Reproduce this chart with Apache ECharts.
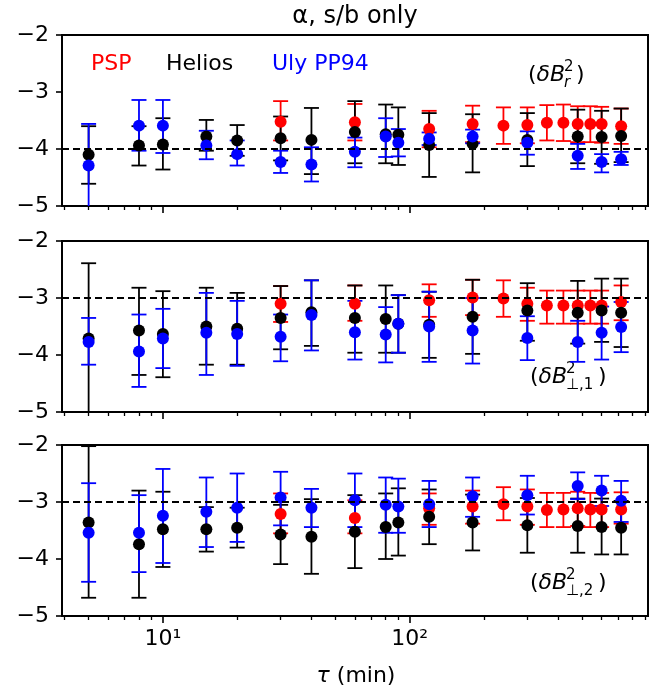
<!DOCTYPE html>
<html><head><meta charset="utf-8">
<script src="https://cdn.jsdelivr.net/npm/echarts@6/dist/echarts.min.js"></script>
<style>html,body{margin:0;padding:0;background:#fff}#c{width:660px;height:690px}</style>
</head><body><div id="c"></div>
<script>
// ---------- data ----------
const tauHU  = [5, 8, 10, 15, 20, 30, 40, 60, 80, 90, 120, 180, 300, 480, 600, 720];
const tauPSP = [30, 60, 120, 180, 240, 300, 360, 420, 480, 540, 600, 720];
const refLevels = [-4, -3, -3];
const majorTicks = [10, 100];
const minorTicks = [4, 5, 6, 7, 8, 9, 20, 30, 40, 50, 60, 70, 80, 90, 200, 300, 400, 500, 600, 700, 800, 900];
const yTicks = [-5, -4, -3, -2];

// panel 1: (dB_r^2)
const r_psp    = [-3.52, -3.53, -3.65, -3.56, -3.59, -3.58, -3.54, -3.54, -3.56, -3.56, -3.56, -3.60];
const r_psp_lo = [-3.85, -3.85, -3.97, -3.88, -3.91, -3.90, -3.85, -3.86, -3.88, -3.88, -3.89, -3.91];
const r_psp_hi = [-3.16, -3.21, -3.33, -3.24, -3.27, -3.27, -3.23, -3.22, -3.25, -3.25, -3.26, -3.29];
const r_hel    = [-4.10, -3.94, -3.92, -3.78, -3.85, -3.81, -3.84, -3.70, -3.74, -3.75, -3.93, -3.91, -3.84, -3.78, -3.79, -3.77];
const r_hel_lo = [-4.61, -4.29, -4.36, -4.03, -4.12, -4.20, -4.44, -4.25, -4.25, -4.28, -4.49, -4.41, -4.30, -4.25, -4.26, -4.23];
const r_hel_hi = [-3.60, -3.60, -3.46, -3.49, -3.58, -3.43, -3.28, -3.16, -3.22, -3.27, -3.37, -3.39, -3.37, -3.31, -3.33, -3.29];
const r_uly    = [-4.29, -3.59, -3.59, -3.94, -4.09, -4.23, -4.27, -4.05, -3.78, -3.89, -3.82, -3.78, -3.89, -4.12, -4.23, -4.18];
const r_uly_lo = [-5.10, -4.03, -4.07, -4.18, -4.29, -4.42, -4.57, -4.32, -4.14, -4.13, -3.93, -3.90, -4.10, -4.35, -4.41, -4.28];
const r_uly_hi = [-3.56, -3.14, -3.14, -3.68, -3.85, -4.03, -3.97, -3.80, -3.46, -3.65, -3.71, -3.66, -3.69, -3.91, -4.09, -4.05];

// panel 2: (dB_perp,1^2)
const p1_psp    = [-3.10, -3.10, -3.04, -2.99, -3.01, -3.10, -3.13, -3.13, -3.13, -3.13, -3.13, -3.07];
const p1_psp_lo = [-3.42, -3.40, -3.33, -3.30, -3.33, -3.40, -3.45, -3.45, -3.45, -3.45, -3.45, -3.39];
const p1_psp_hi = [-2.79, -2.78, -2.76, -2.68, -2.69, -2.82, -2.87, -2.87, -2.87, -2.87, -2.87, -2.78];
const p1_hel    = [-3.71, -3.57, -3.63, -3.50, -3.54, -3.35, -3.25, -3.35, -3.37, -3.45, -3.47, -3.33, -3.22, -3.26, -3.22, -3.26];
const p1_hel_lo = [-5.10, -4.35, -4.39, -4.17, -4.17, -3.90, -3.84, -3.96, -3.96, -3.96, -4.05, -3.98, -3.75, -3.80, -3.77, -3.86];
const p1_hel_hi = [-2.39, -2.82, -2.88, -2.82, -2.91, -2.79, -2.69, -2.78, -2.78, -2.95, -2.89, -2.68, -2.74, -2.70, -2.66, -2.66];
const p1_uly    = [-3.77, -3.94, -3.71, -3.61, -3.63, -3.68, -3.30, -3.60, -3.64, -3.45, -3.50, -3.57, -3.70, -3.77, -3.61, -3.51];
const p1_uly_lo = [-4.17, -4.56, -4.23, -4.35, -4.19, -4.11, -3.92, -4.08, -4.13, -3.96, -4.12, -4.15, -4.09, -4.12, -4.08, -3.95];
const p1_uly_hi = [-3.35, -3.29, -3.19, -2.91, -3.05, -3.29, -2.69, -3.05, -3.16, -2.95, -2.89, -3.00, -3.32, -3.40, -3.15, -3.07];

// panel 3: (dB_perp,2^2)
const p2_psp    = [-3.21, -3.28, -3.11, -3.08, -3.04, -3.08, -3.14, -3.13, -3.11, -3.13, -3.13, -3.13];
const p2_psp_lo = [-3.55, -3.55, -3.40, -3.38, -3.32, -3.40, -3.44, -3.44, -3.42, -3.44, -3.44, -3.38];
const p2_psp_hi = [-2.85, -2.97, -2.85, -2.80, -2.74, -2.78, -2.84, -2.84, -2.82, -2.84, -2.84, -2.83];
const p2_hel    = [-3.36, -3.74, -3.48, -3.48, -3.45, -3.57, -3.61, -3.52, -3.44, -3.36, -3.26, -3.36, -3.41, -3.42, -3.44, -3.45];
const p2_hel_lo = [-4.68, -4.68, -4.14, -3.87, -3.80, -4.09, -4.26, -4.16, -4.00, -3.94, -3.74, -3.85, -3.89, -3.89, -3.92, -3.92];
const p2_hel_hi = [-2.02, -2.80, -2.82, -3.09, -3.10, -3.05, -2.95, -2.88, -2.85, -2.76, -2.78, -2.87, -2.93, -2.94, -2.94, -2.98];
const p2_uly    = [-3.54, -3.54, -3.24, -3.17, -3.10, -2.92, -3.10, -2.97, -3.05, -3.08, -3.04, -2.90, -2.88, -2.72, -2.80, -2.98];
const p2_uly_lo = [-4.40, -4.23, -4.07, -3.79, -3.70, -3.41, -3.44, -3.44, -3.54, -3.54, -3.44, -3.26, -3.22, -2.95, -3.07, -3.35];
const p2_uly_hi = [-2.67, -2.88, -2.42, -2.57, -2.50, -2.47, -2.77, -2.50, -2.57, -2.59, -2.63, -2.57, -2.54, -2.48, -2.54, -2.63];

// ---------- chart ----------
const FONT = '"DejaVu Sans", sans-serif';
const X_MIN = 3.9, X_MAX = 925, Y_MIN = -5, Y_MAX = -2;
const gridTops = [35, 241, 445];
const GRID_H = 171;
const COL = { psp: '#ff0000', hel: '#000000', uly: '#0000ff' };

const panels = [
  { psp: [r_psp, r_psp_lo, r_psp_hi],   hel: [r_hel, r_hel_lo, r_hel_hi],   uly: [r_uly, r_uly_lo, r_uly_hi] },
  { psp: [p1_psp, p1_psp_lo, p1_psp_hi], hel: [p1_hel, p1_hel_lo, p1_hel_hi], uly: [p1_uly, p1_uly_lo, p1_uly_hi] },
  { psp: [p2_psp, p2_psp_lo, p2_psp_hi], hel: [p2_hel, p2_hel_lo, p2_hel_hi], uly: [p2_uly, p2_uly_lo, p2_uly_hi] }
];

function errRenderer(color) {
  return function (params, api) {
    const x = api.value(0), lo = api.value(1), hi = api.value(2);
    const loClip = lo < Y_MIN, hiClip = hi > Y_MAX;
    const pLo = api.coord([x, Math.max(lo, Y_MIN)]);
    const pHi = api.coord([x, Math.min(hi, Y_MAX)]);
    const st = { stroke: color, lineWidth: 1.8 };
    const c = 7.5;
    const ch = [{ type: 'line', shape: { x1: pLo[0], y1: pLo[1], x2: pHi[0], y2: pHi[1] }, style: st }];
    if (!loClip) ch.push({ type: 'line', shape: { x1: pLo[0] - c, y1: pLo[1], x2: pLo[0] + c, y2: pLo[1] }, style: st });
    if (!hiClip) ch.push({ type: 'line', shape: { x1: pHi[0] - c, y1: pHi[1], x2: pHi[0] + c, y2: pHi[1] }, style: st });
    return { type: 'group', children: ch };
  };
}

const grids = [], xAxes = [], yAxes = [], series = [];
gridTops.forEach((top, i) => {
  grids.push({ left: 62, right: 12, top: top, height: GRID_H, show: true, borderColor: '#000', borderWidth: 2, backgroundColor: 'transparent' });
  const base = { type: 'log', logBase: 10, gridIndex: i, min: X_MIN, max: X_MAX, position: 'bottom',
    axisLine: { show: false }, splitLine: { show: false }, minorTick: { show: false } };
  xAxes.push(Object.assign({}, base, {
    axisTick: { show: true, customValues: majorTicks, length: 7, inside: false, lineStyle: { color: '#000', width: 1.6 } },
    axisLabel: { show: i === 2, customValues: majorTicks, fontSize: 22, fontFamily: FONT, color: '#000', margin: 12,
      formatter: function (v) { const e = v < 5 ? Math.round(v) : Math.round(Math.log10(v)); return '10' + (e === 1 ? '\u00b9' : '\u00b2'); } }
  }));
  xAxes.push(Object.assign({}, base, {
    axisTick: { show: true, customValues: minorTicks, length: 4, inside: false, lineStyle: { color: '#000', width: 1.3 } },
    axisLabel: { show: false }
  }));
  yAxes.push({ type: 'value', gridIndex: i, min: Y_MIN, max: Y_MAX, interval: 1,
    axisLine: { show: false }, splitLine: { show: false },
    axisTick: { show: true, length: 6, lineStyle: { color: '#000', width: 1.6 } },
    axisLabel: { fontSize: 22, fontFamily: FONT, color: '#000', margin: 13, padding: [5, 0, 0, 0],
      formatter: v => '\u2212' + Math.abs(v) } });

  const xi = 2 * i, yi = i;
  series.push({ type: 'line', xAxisIndex: xi, yAxisIndex: yi, symbol: 'none', silent: true,
    data: [[X_MIN, refLevels[i]], [X_MAX, refLevels[i]]],
    lineStyle: { color: '#000', width: 1.8, type: [7, 4] } });
  const P = panels[i];
  [['psp', tauPSP], ['hel', tauHU], ['uly', tauHU]].forEach(([k, taus]) => {
    const [v, lo, hi] = P[k];
    series.push({ type: 'custom', xAxisIndex: xi, yAxisIndex: yi, silent: true, renderItem: errRenderer(COL[k]),
      encode: { x: 0, y: [1, 2] }, data: taus.map((t, j) => [t, lo[j], hi[j]]) });
    series.push({ type: 'scatter', xAxisIndex: xi, yAxisIndex: yi, silent: true, symbolSize: 12,
      itemStyle: { color: COL[k], opacity: 1 }, data: taus.map((t, j) => [t, v[j]]) });
  });
});

function txt(x, y, text, size, color, align, italic) {
  return { type: 'text', x: x, y: y, silent: true, style: { text: text, fontSize: size, fontFamily: FONT,
    fontStyle: italic ? 'italic' : 'normal', fill: color, textAlign: align || 'left', textVerticalAlign: 'middle' } };
}
function annot(x, y, sub, subItalic) {
  return [
    { type: 'text', x: x, y: y, silent: true, style: { text: '{n|(}{i|\u03b4B}', textVerticalAlign: 'middle',
      rich: { n: { fontSize: 22, fontFamily: FONT, fill: '#000' }, i: { fontSize: 22, fontFamily: FONT, fontStyle: 'italic', fill: '#000' } } } },
    txt(x + 36, y - 8, '2', 15, '#000', 'left', false),
    txt(x + 36, y + 8, sub, 15, '#000', 'left', subItalic),
    txt(x + 36 + (subItalic ? 12 : 32), y, ')', 22, '#000', 'left', false)
  ];
}

const graphics = [
  txt(355, 17, '\u03b1, s/b only', 24, '#000', 'center'),
  txt(91, 64, 'PSP', 22, COL.psp),
  txt(166, 64, 'Helios', 22, COL.hel),
  txt(272, 64, 'Uly PP94', 22, COL.uly),
  { type: 'text', x: 356, y: 676, silent: true, style: { text: '{i|\u03c4}{n| (min)}', textAlign: 'center', textVerticalAlign: 'middle',
    rich: { i: { fontSize: 22, fontFamily: FONT, fontStyle: 'italic', fill: '#000' }, n: { fontSize: 22, fontFamily: FONT, fill: '#000' } } } }
].concat(annot(528, 75, 'r', true), annot(530, 377, '\u22a5,1', false), annot(530, 583, '\u22a5,2', false));

const chart = echarts.init(document.getElementById('c'), null, { renderer: 'canvas' });
chart.setOption({
  animation: false,
  backgroundColor: '#fff',
  grid: grids, xAxis: xAxes, yAxis: yAxes, series: series,
  graphic: { elements: graphics }
});
</script></body></html>
